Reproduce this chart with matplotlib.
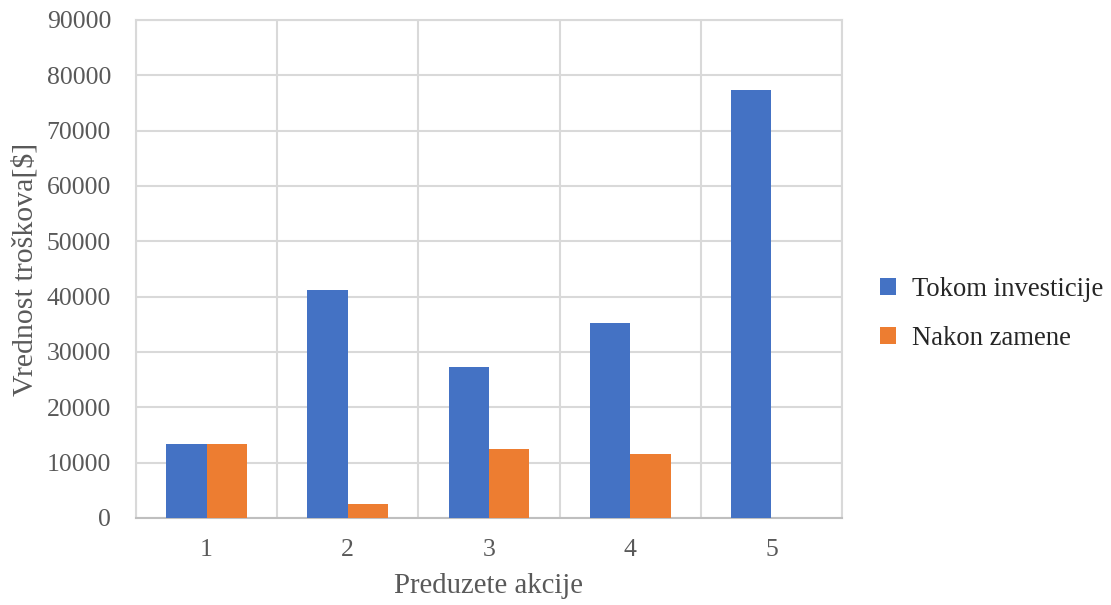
import matplotlib
matplotlib.use("Agg")
import matplotlib.pyplot as plt
import numpy as np
from matplotlib.ticker import MultipleLocator, FixedLocator

categories = ["1", "2", "3", "4", "5"]
tokom = [13300, 41200, 27300, 35200, 77300]
nakon = [13300, 2500, 12400, 11600, 0]
series_names = ["Tokom investicije", "Nakon zamene"]
colors = ["#4472C4", "#ED7D31"]

plt.rcParams['font.family'] = ['Liberation Serif', 'DejaVu Serif']
txt = "#595959"

fig = plt.figure(figsize=(11.11, 6.05), dpi=100)
ax = fig.add_axes([136/1111, 1-518/605, 706/1111, 498/605])

x = np.arange(len(categories))
w = 0.2857
ax.bar(x - w/2, tokom, w, color=colors[0], label=series_names[0], zorder=3)
ax.bar(x + w/2, nakon, w, color=colors[1], label=series_names[1], zorder=3)

ax.set_xlim(-0.5, len(categories) - 0.5)
ax.set_ylim(0, 90000)
ax.yaxis.set_major_locator(MultipleLocator(10000))
ax.set_xticks(x)
ax.set_xticklabels(categories)
ax.xaxis.set_minor_locator(FixedLocator(np.arange(-0.5, len(categories), 1)))
ax.grid(axis='y', which='major', color='#d9d9d9', linewidth=1.5, zorder=0)
ax.grid(axis='x', which='minor', color='#d9d9d9', linewidth=1.5, zorder=0)
ax.tick_params(axis='both', which='both', length=0, labelsize=18.5, labelcolor=txt)
ax.tick_params(axis='x', pad=15)
ax.tick_params(axis='y', pad=18)
for s in ['left', 'right', 'top']:
    ax.spines[s].set_color('#d9d9d9')
    ax.spines[s].set_linewidth(1.5)
ax.spines['bottom'].set_color('#bfbfbf')
ax.spines['bottom'].set_linewidth(1.5)

ax.set_xlabel("Preduzete akcije", fontsize=20.7, color=txt, labelpad=9)
ax.set_ylabel("Vrednost troškova[$]", fontsize=21.5, color=txt, labelpad=6)

leg = fig.legend(loc='center left', bbox_to_anchor=(856/1111, 1-314/605), frameon=False,
                 fontsize=19.2, handlelength=0.6, handleheight=0.6, handletextpad=0.6,
                 labelspacing=0.9)
for t in leg.get_texts():
    t.set_color('#262626')

fig.savefig("out.png", dpi=100)
